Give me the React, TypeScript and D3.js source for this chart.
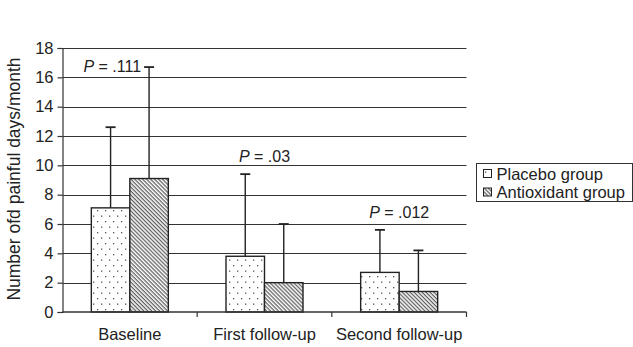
import React, { useEffect, useRef } from "react";
import * as d3 from "d3";

const categories = ["Baseline", "First follow-up", "Second follow-up"];
const seriesNames = ["Placebo group", "Antioxidant group"];
const placeboMeans = [7.1, 3.8, 2.7];
const placeboUpper = [12.6, 9.4, 5.6];
const antioxMeans = [9.1, 2.0, 1.4];
const antioxUpper = [16.7, 6.0, 4.2];
const yTicks = [0, 2, 4, 6, 8, 10, 12, 14, 16, 18];
const pTexts = [" = .111", " = .03", " = .012"];
const pLevels = [16.35, 10.2, 6.4];
const yTitle = "Number ofd painful days/month";

const W = 633;
const H = 347;
const FONT = "'Liberation Sans', Arial, sans-serif";
const FS = 16.5;

export default function App() {
  const ref = useRef<SVGSVGElement>(null);

  useEffect(() => {
    const svg = d3.select(ref.current);
    svg.selectAll("*").remove();

    const left = 62.5;
    const right = 466.5;
    const top = 48;
    const bottom = 312;

    const y = d3.scaleLinear().domain([0, 18]).range([bottom, top]);
    const x = d3.scaleBand<string>().domain(categories).range([left, right]).paddingInner(0).paddingOuter(0);
    const barW = 38.5;

    const defs = svg.append("defs");
    const dots = defs
      .append("pattern")
      .attr("id", "dots")
      .attr("patternUnits", "userSpaceOnUse")
      .attr("width", 8)
      .attr("height", 11);
    dots.append("rect").attr("width", 8).attr("height", 11).attr("fill", "#fff");
    dots.append("rect").attr("x", 1).attr("y", 1).attr("width", 1.3).attr("height", 1.3).attr("fill", "#555");
    dots.append("rect").attr("x", 5).attr("y", 6.5).attr("width", 1.3).attr("height", 1.3).attr("fill", "#555");

    const hatch = defs
      .append("pattern")
      .attr("id", "hatch")
      .attr("patternUnits", "userSpaceOnUse")
      .attr("width", 2.8)
      .attr("height", 2.8)
      .attr("patternTransform", "rotate(45)");
    hatch.append("rect").attr("width", 2.8).attr("height", 2.8).attr("fill", "#fff");
    hatch.append("line").attr("x1", 0).attr("y1", 0.7).attr("x2", 2.8).attr("y2", 0.7).attr("stroke", "#333").attr("stroke-width", 1);

    // gridlines
    svg
      .append("g")
      .selectAll("line")
      .data(yTicks.filter((d) => d > 0))
      .join("line")
      .attr("x1", left)
      .attr("x2", right)
      .attr("y1", (d) => Math.round(y(d)) + 0.5)
      .attr("y2", (d) => Math.round(y(d)) + 0.5)
      .attr("stroke", "#333")
      .attr("stroke-width", 1.2);

    // y axis
    const yAxis = d3.axisLeft(y).tickValues(yTicks).tickSize(5).tickPadding(4).tickFormat(d3.format("d"));
    const ga = svg.append("g").attr("transform", `translate(${left},0)`).call(yAxis);
    ga.select(".domain").attr("stroke", "#333").attr("stroke-width", 1.2);
    ga.selectAll(".tick line").attr("stroke", "#333").attr("stroke-width", 1.2);
    ga.selectAll("text").attr("font-family", FONT).attr("font-size", FS).attr("fill", "#222");

    // bars
    const groups = categories.map((c, i) => ({ c, i }));
    const series = [
      { means: placeboMeans, upper: placeboUpper, fill: "url(#dots)", off: -barW },
      { means: antioxMeans, upper: antioxUpper, fill: "url(#hatch)", off: 0 },
    ];
    const center = (c: string) => (x(c) as number) + x.bandwidth() / 2;

    series.forEach((s) => {
      svg
        .append("g")
        .selectAll("rect")
        .data(groups)
        .join("rect")
        .attr("x", (g) => center(g.c) + s.off)
        .attr("y", (g) => y(s.means[g.i]))
        .attr("width", barW)
        .attr("height", (g) => y(0) - y(s.means[g.i]))
        .attr("fill", s.fill)
        .attr("stroke", "#222")
        .attr("stroke-width", 1.4);
    });

    series.forEach((s) => {
      const eg = svg.append("g").selectAll("g").data(groups).join("g");
      eg.append("line")
        .attr("x1", (g) => center(g.c) + s.off + barW / 2)
        .attr("x2", (g) => center(g.c) + s.off + barW / 2)
        .attr("y1", (g) => y(s.means[g.i]))
        .attr("y2", (g) => y(s.upper[g.i]))
        .attr("stroke", "#222")
        .attr("stroke-width", 1.4);
      eg.append("line")
        .attr("x1", (g) => center(g.c) + s.off + barW / 2 - 5)
        .attr("x2", (g) => center(g.c) + s.off + barW / 2 + 5)
        .attr("y1", (g) => y(s.upper[g.i]))
        .attr("y2", (g) => y(s.upper[g.i]))
        .attr("stroke", "#222")
        .attr("stroke-width", 1.8);
    });

    // x axis
    const xAxisY = y(0);
    svg
      .append("line")
      .attr("x1", left)
      .attr("x2", right)
      .attr("y1", xAxisY)
      .attr("y2", xAxisY)
      .attr("stroke", "#333")
      .attr("stroke-width", 1.4);
    const bounds = categories.map((c) => (x(c) as number) + x.bandwidth());
    svg
      .append("g")
      .selectAll("line")
      .data(bounds)
      .join("line")
      .attr("x1", (d) => d)
      .attr("x2", (d) => d)
      .attr("y1", xAxisY)
      .attr("y2", xAxisY + 5)
      .attr("stroke", "#333")
      .attr("stroke-width", 1.2);
    svg
      .append("g")
      .selectAll("text")
      .data(categories)
      .join("text")
      .attr("x", (c) => center(c))
      .attr("y", xAxisY + 28)
      .attr("text-anchor", "middle")
      .attr("font-family", FONT)
      .attr("font-size", FS)
      .attr("fill", "#222")
      .text((c) => c);

    // y title
    svg
      .append("text")
      .attr("transform", `translate(20,${(top + bottom) / 2 - 1}) rotate(-90)`)
      .attr("text-anchor", "middle")
      .attr("font-family", FONT)
      .attr("font-size", 17.5)
      .attr("fill", "#222")
      .text(yTitle);

    // P labels
    const pAnchor = ["end", "middle", "middle"];
    const pX = (i: number) => (i === 0 ? center(categories[0]) + barW / 2 - 8 : center(categories[i]));
    const pg = svg
      .append("g")
      .selectAll("text")
      .data(categories.map((c, i) => i))
      .join("text")
      .attr("x", (i) => pX(i))
      .attr("y", (i) => y(pLevels[i]))
      .attr("text-anchor", (i) => pAnchor[i])
      .attr("font-family", FONT)
      .attr("font-size", 16)
      .attr("fill", "#222");
    pg.append("tspan").attr("font-style", "italic").text("P");
    pg.append("tspan").text((i) => pTexts[i]);

    // legend
    const lx = 476.5;
    const ly = 163.5;
    const lg = svg.append("g");
    lg.append("rect")
      .attr("x", lx)
      .attr("y", ly)
      .attr("width", 156)
      .attr("height", 38)
      .attr("fill", "#fff")
      .attr("stroke", "#333");
    const fills = ["url(#dots)", "url(#hatch)"];
    seriesNames.forEach((n, i) => {
      lg.append("rect")
        .attr("x", lx + 7)
        .attr("y", ly + 6 + i * 18.5)
        .attr("width", 8)
        .attr("height", 8)
        .attr("fill", fills[i])
        .attr("stroke", "#222");
      lg.append("text")
        .attr("x", lx + 20)
        .attr("y", ly + 16 + i * 18.5)
        .attr("font-family", FONT)
        .attr("font-size", FS)
        .attr("fill", "#222")
        .text(n);
    });
  }, []);

  return (
    <svg
      ref={ref}
      width={W}
      height={H}
      style={{ position: "absolute", left: 0, top: 0, background: "#fff" }}
    />
  );
}
